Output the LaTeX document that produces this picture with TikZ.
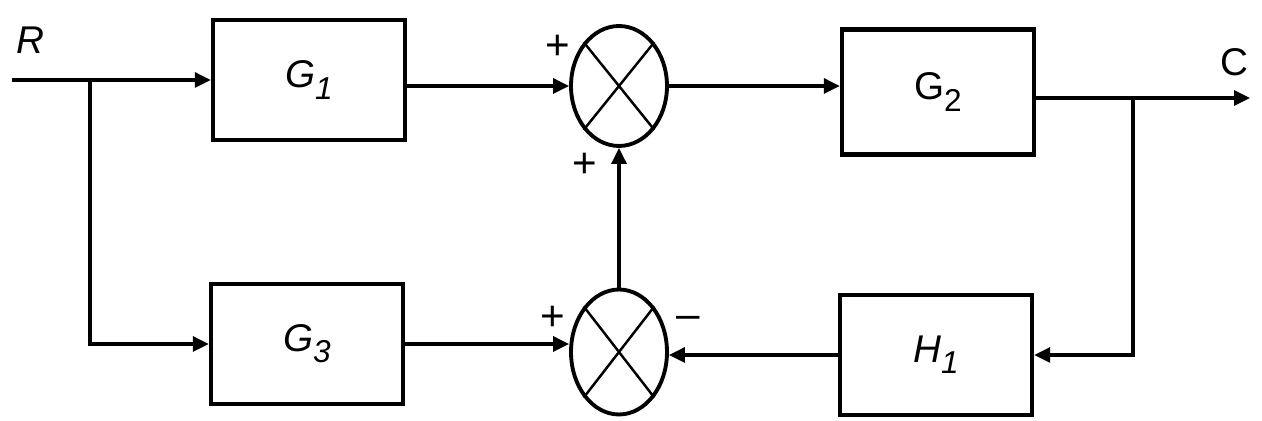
\documentclass[tikz,border=0pt]{standalone}
\usepackage{fontspec}
\setmainfont{Liberation Sans}
\usetikzlibrary{arrows.meta,positioning,shapes.geometric}
\newcommand{\blklbl}[3][\itshape]{{#1#2}\raisebox{-0.55ex}{\fontsize{18}{18}\selectfont#1#3}}
\tikzset{blockbox/.style={draw,line width=2.5pt,minimum width=3.84cm,minimum height=2.4cm,
 font=\fontsize{22}{24}\selectfont},
 sumnode/.style={draw,ellipse,line width=2.2pt,minimum width=1.92cm,minimum height=2.4cm,inner sep=0pt},
 sigarrow/.style={-{Triangle[length=3.2mm,width=3mm]},line width=1.8pt},
 signlbl/.style={font=\fontsize{24}{24}\selectfont,inner sep=0pt}}

\begin{document}
\begin{tikzpicture}[x=0.02cm,y=-0.02cm]
\useasboundingbox (0,0) rectangle (1262,421);
\node[blockbox] (g1) at (309,80) {\blklbl{G}{1}};
\node[blockbox] (g3) at (307,344) {\blklbl{G}{3}};
\node[blockbox,minimum height=2.5cm] (g2) at (938,92) {\blklbl[\upshape]{G}{2}};
\node[blockbox] (h1) at (936,355) {\blklbl{H}{1}};
\node[sumnode] (s1) at (619,86) {};
\node[sumnode,minimum height=2.5cm] (s2) at (619,352) {};
\draw[line width=1.4pt] (s1.north west)--(s1.south east) (s1.north east)--(s1.south west);
\draw[line width=1.4pt] (s2.north west)--(s2.south east) (s2.north east)--(s2.south west);
\coordinate (in) at (12,80);
\coordinate (br1) at (90,80);
\coordinate (br2) at (1133,98);
\coordinate (out) at (1250,98);
\node[font=\fontsize{22}{24}\selectfont\itshape] (r) at (30,40) {R};
\node[font=\fontsize{22}{24}\selectfont] (c) at (1234,62) {C};
\draw[sigarrow] (in)--(g1);
\draw[sigarrow] (br1)|-(g3);
\draw[sigarrow] (g1.east|-s1)--(s1.west);
\draw[sigarrow] (g3)--(s2.west|-g3);
\draw[sigarrow] (s1.east)--(g2.west|-s1);
\draw[sigarrow] (s2.north)--(s1.south);
\draw[sigarrow] (g2.east|-out)--(out);
\draw[sigarrow] (br2)|-(h1.east);
\draw[sigarrow] (h1)--(s2.east|-h1);
\node[signlbl] (p1) at (558,47) {+};
\node[signlbl] (p2) at (585,165) {+};
\node[signlbl] (p3) at (553,318) {+};
\node[signlbl] (m1) at (688,322) {–};
\end{tikzpicture}
\end{document}
